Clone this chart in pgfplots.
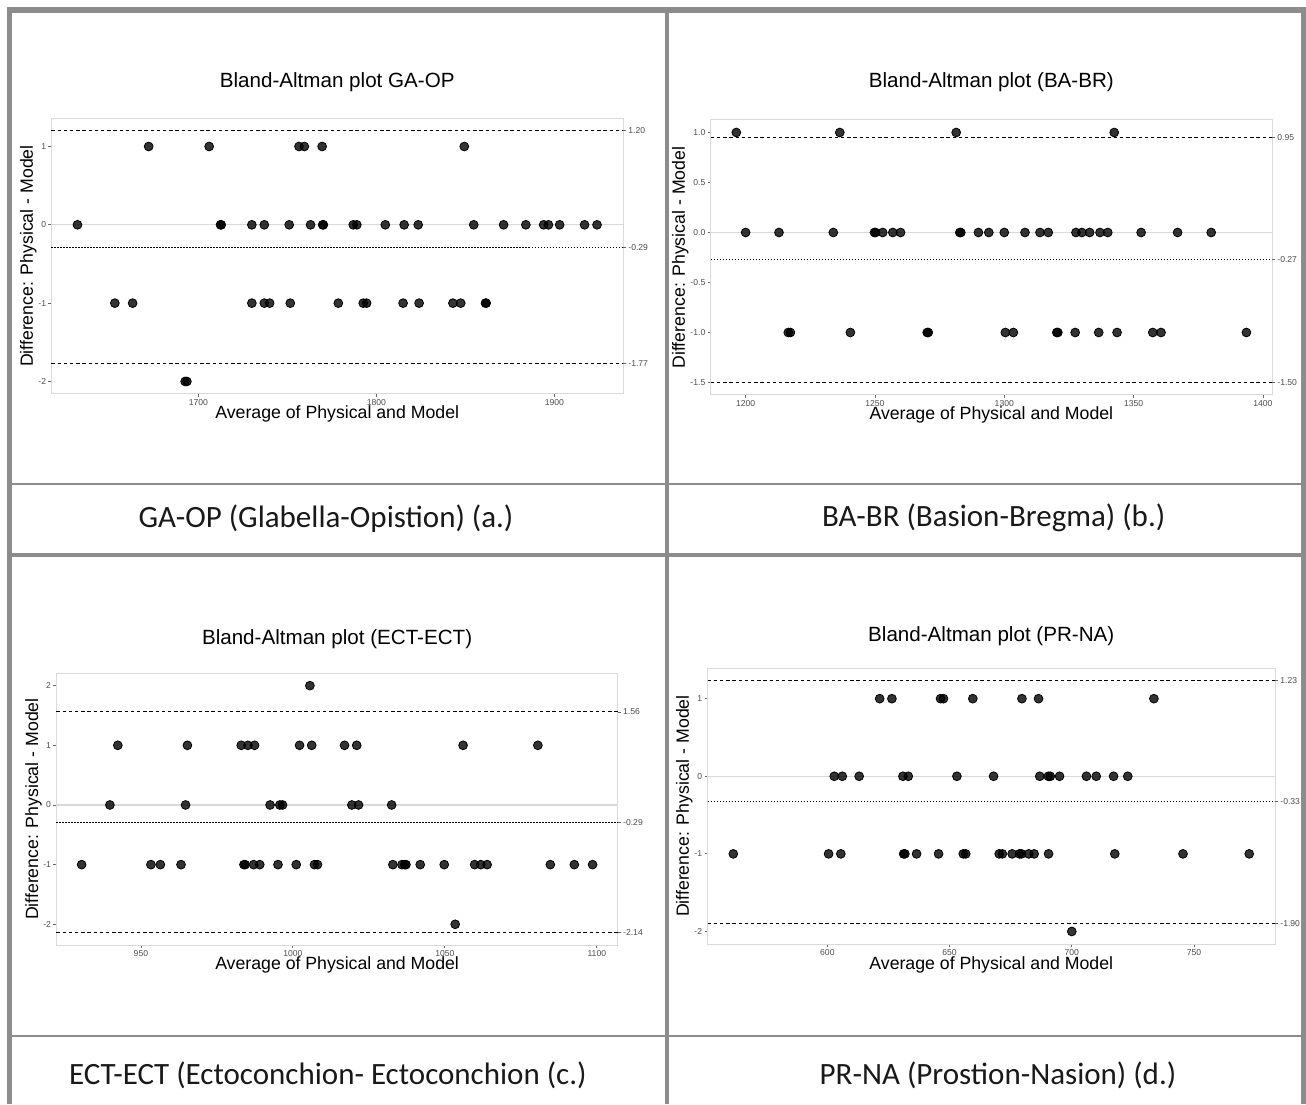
\documentclass[border=0pt]{standalone}
\usepackage{pgfplots}
\pgfplotsset{compat=1.18}
\usepackage{pgfplotstable}
\usepackage{fontspec}
\setmainfont{Liberation Sans}
\newfontfamily\capfont{Carlito}
\definecolor{bordergray}{HTML}{8C8C8C}
\definecolor{framegray}{HTML}{D9D9D9}
\definecolor{ticktext}{HTML}{4D4D4D}

\pgfplotstableread{
x y
1672 1
1706 1
1756.5 1
1759.5 1
1769.5 1
1849.4 1
1632 0
1712.4 0
1712.8 0
1730 0
1737 0
1751 0
1763 0
1769.8 0
1770.2 0
1787 0
1789 0
1805 0
1815.6 0
1823.5 0
1854.7 0
1871.5 0
1884 0
1894 0
1896.7 0
1903 0
1917 0
1924 0
1653 -1
1663 -1
1730 -1
1737 -1
1740 -1
1751.6 -1
1778.6 -1
1792.6 -1
1794.5 -1
1815 -1
1824 -1
1843 -1
1847.4 -1
1861.3 -1
1861.7 -1
1692.5 -2
1693.5 -2
}\dataA

\pgfplotstableread{
x y
1196.4 1
1236.4 1
1281.4 1
1342.5 1
1200 0
1212.9 0
1233.9 0
1249.8 0
1250.2 0
1253 0
1256.9 0
1259.9 0
1282.8 0
1283.2 0
1290 0
1294 0
1300 0
1308 0
1313.8 0
1317 0
1327.7 0
1330 0
1333 0
1337 0
1340 0
1352.9 0
1367 0
1380 0
1216.5 -1
1217.3 -1
1240.5 -1
1270.2 -1
1270.6 -1
1300.4 -1
1303.5 -1
1320.3 -1
1320.7 -1
1327.4 -1
1336.5 -1
1343.6 -1
1357.4 -1
1360.6 -1
1393.6 -1
}\dataB

\pgfplotstableread{
x y
1005.6 2
942.4 1
965.3 1
983 1
985.2 1
987.4 1
1002.2 1
1006.2 1
1017 1
1021 1
1056 1
1080.6 1
939.8 0
964.7 0
992.5 0
995.7 0
996.6 0
1019.4 0
1021.6 0
1032.5 0
930.5 -1
953.3 -1
956.4 -1
963.2 -1
983.9 -1
984.3 -1
987.1 -1
989.1 -1
995.1 -1
1001.1 -1
1007.1 -1
1008.1 -1
1032.9 -1
1035.9 -1
1036.8 -1
1037.2 -1
1041.9 -1
1049.8 -1
1059.8 -1
1061.8 -1
1063.9 -1
1084.7 -1
1092.6 -1
1098.6 -1
1053.4 -2
}\dataC

\pgfplotstableread{
x y
621.4 1
626.4 1
646.3 1
647.5 1
659.5 1
679.6 1
686.4 1
733.6 1
602.8 0
606.1 0
613 0
630.9 0
633.1 0
653 0
668 0
686.9 0
690.4 0
691.2 0
695 0
706 0
710 0
717.1 0
722.9 0
561.5 -1
600.5 -1
605.5 -1
631.2 -1
631.7 -1
636.5 -1
645.5 -1
655.6 -1
656.6 -1
670.3 -1
671.6 -1
675.6 -1
678.6 -1
679.4 -1
682.4 -1
684.6 -1
690.5 -1
717.6 -1
745.5 -1
772.6 -1
700 -2
}\dataD

\pgfplotsset{
  ba/.style={
    scale only axis, anchor=south west,
    axis line style={draw=framegray, line width=0.5pt},
    tick align=outside,
    major tick length=1.5pt,
    tick style={draw=black!60, line width=0.4pt},
    xtick pos=left, ytick pos=left,
    tick label style={font=\fontsize{4.3}{5}\selectfont, text=ticktext, inner sep=1pt},
    label style={font=\fontsize{8.85}{10}\selectfont},
    title style={font=\fontsize{10.3}{12}\selectfont, anchor=center, yshift=-7.5pt},
    xlabel style={anchor=center},
    ylabel style={anchor=center},
    clip=false,
  },
  lim/.style={no marks, black, line width=0.5pt, dash pattern=on 1.7pt off 1.4pt},
  mean/.style={no marks, black, line width=0.5pt, dash pattern=on 0.6pt off 0.9pt},
  zero/.style={no marks, framegray, line width=0.6pt},
  pts/.style={only marks, mark=*, mark size=2.2pt, mark options={draw=none, fill=black, fill opacity=0.8}},
  rlab/.style={scale only axis, anchor=south west, axis line style={draw=none},
    xtick=\empty, ytick pos=right, yticklabel pos=right,
    tick align=outside, major tick length=1.5pt,
    tick style={draw=black!60, line width=0.4pt},
    tick label style={font=\fontsize{4.3}{5}\selectfont, text=ticktext, inner sep=1pt}},
}

\begin{document}
\begin{tikzpicture}
\path[use as bounding box] (0pt,0pt) rectangle (653pt,552pt);

% ---------- panel a ----------
\begin{axis}[ba, at={(25.75pt,355pt)}, width=285.75pt, height=137.85pt,
  xmin=1617.4, xmax=1938.6, ymin=-2.16, ymax=1.36,
  xtick={1700,1800,1900}, xticklabels={1700,1800,1900},
  ytick={-2,-1,0,1}, yticklabels={-2,-1,0,1},
  title={Bland-Altman plot GA-OP},
  title style={at={(axis description cs:0.5,1.1425)}},
  xlabel={Average of Physical and Model},
  xlabel style={at={(axis description cs:0.5,-0.0725)}},
  ylabel={Difference: Physical - Model},
  ylabel style={at={(axis description cs:-0.0408,0.5)}}]
\addplot[zero] coordinates {(1617.4,0) (1938.6,0)};
\addplot[pts] table[x=x,y=y] {\dataA};
\addplot[lim] coordinates {(1617.4,1.20) (1938.6,1.20)};
\addplot[mean] coordinates {(1617.4,-0.29) (1938.6,-0.29)};
\addplot[lim] coordinates {(1617.4,-1.77) (1938.6,-1.77)};
\end{axis}
\begin{axis}[rlab, at={(25.75pt,355pt)}, width=285.75pt, height=137.85pt,
  xmin=1617.4, xmax=1938.6, ymin=-2.16, ymax=1.36,
  ytick={1.20,-0.29,-1.77}, yticklabels={1.20,-0.29,-1.77}]
\end{axis}

% ---------- panel b ----------
\begin{axis}[ba, at={(355.35pt,354.5pt)}, width=280.65pt, height=137.5pt,
  xmin=1186.5, xmax=1403.5, ymin=-1.625, ymax=1.125,
  xtick={1200,1250,1300,1350,1400}, xticklabels={1200,1250,1300,1350,1400},
  ytick={-1.5,-1,-0.5,0,0.5,1}, yticklabels={-1.5,-1.0,-0.5,0.0,0.5,1.0},
  title={Bland-Altman plot (BA-BR)},
  title style={at={(axis description cs:0.5,1.149)}},
  xlabel={Average of Physical and Model},
  xlabel style={at={(axis description cs:0.5,-0.0727)}},
  ylabel={Difference: Physical - Model},
  ylabel style={at={(axis description cs:-0.0543,0.5)}}]
\addplot[zero] coordinates {(1186.5,0) (1403.5,0)};
\addplot[pts] table[x=x,y=y] {\dataB};
\addplot[lim] coordinates {(1186.5,0.95) (1403.5,0.95)};
\addplot[mean] coordinates {(1186.5,-0.27) (1403.5,-0.27)};
\addplot[lim] coordinates {(1186.5,-1.50) (1403.5,-1.50)};
\end{axis}
\begin{axis}[rlab, at={(355.35pt,354.5pt)}, width=280.65pt, height=137.5pt,
  xmin=1186.5, xmax=1403.5, ymin=-1.625, ymax=1.125,
  ytick={0.95,-0.27,-1.50}, yticklabels={0.95,-0.27,-1.50}]
\end{axis}

% ---------- panel c ----------
\begin{axis}[ba, at={(28.2pt,79.5pt)}, width=280.7pt, height=135.85pt,
  xmin=922.2, xmax=1106.9, ymin=-2.347, ymax=2.207,
  xtick={950,1000,1050,1100}, xticklabels={950,1000,1050,1100},
  ytick={-2,-1,0,1,2}, yticklabels={-2,-1,0,1,2},
  title={Bland-Altman plot (ECT-ECT)},
  title style={at={(axis description cs:0.5,1.137)}},
  xlabel={Average of Physical and Model},
  xlabel style={at={(axis description cs:0.5,-0.0736)}},
  ylabel={Difference: Physical - Model},
  ylabel style={at={(axis description cs:-0.0406,0.5)}}]
\addplot[zero] coordinates {(922.2,0) (1106.9,0)};
\addplot[pts] table[x=x,y=y] {\dataC};
\addplot[lim] coordinates {(922.2,1.56) (1106.9,1.56)};
\addplot[mean] coordinates {(922.2,-0.29) (1106.9,-0.29)};
\addplot[lim] coordinates {(922.2,-2.14) (1106.9,-2.14)};
\end{axis}
\begin{axis}[rlab, at={(28.2pt,79.5pt)}, width=280.7pt, height=135.85pt,
  xmin=922.2, xmax=1106.9, ymin=-2.347, ymax=2.207,
  ytick={1.56,-0.29,-2.14}, yticklabels={1.56,-0.29,-2.14}]
\end{axis}

% ---------- panel d ----------
\begin{axis}[ba, at={(353.75pt,80pt)}, width=283.75pt, height=137.85pt,
  xmin=550.95, xmax=783.15, ymin=-2.1615, ymax=1.3915,
  xtick={600,650,700,750}, xticklabels={600,650,700,750},
  ytick={-2,-1,0,1}, yticklabels={-2,-1,0,1},
  title={Bland-Altman plot (PR-NA)},
  title style={at={(axis description cs:0.5,1.129)}},
  xlabel={Average of Physical and Model},
  xlabel style={at={(axis description cs:0.5,-0.076)}},
  ylabel={Difference: Physical - Model},
  ylabel style={at={(axis description cs:-0.0409,0.5)}}]
\addplot[zero] coordinates {(550.95,0) (783.15,0)};
\addplot[pts] table[x=x,y=y] {\dataD};
\addplot[lim] coordinates {(550.95,1.23) (783.15,1.23)};
\addplot[mean] coordinates {(550.95,-0.33) (783.15,-0.33)};
\addplot[lim] coordinates {(550.95,-1.90) (783.15,-1.90)};
\end{axis}
\begin{axis}[rlab, at={(353.75pt,80pt)}, width=283.75pt, height=137.85pt,
  xmin=550.95, xmax=783.15, ymin=-2.1615, ymax=1.3915,
  ytick={1.23,-0.33,-1.90}, yticklabels={1.23,-0.33,-1.90}]
\end{axis}

% ---------- table borders ----------
\draw[bordergray, line width=2.7pt] (3.5pt,547pt) -- (653pt,547pt);
\draw[bordergray, line width=2.5pt] (4.75pt,0pt) -- (4.75pt,548.3pt);
\draw[bordergray, line width=2.5pt] (651.5pt,0pt) -- (651.5pt,548.3pt);
\draw[bordergray, line width=2pt] (333.5pt,0pt) -- (333.5pt,547pt);
\draw[bordergray, line width=1.35pt] (4.75pt,310pt) -- (651.5pt,310pt);
\draw[bordergray, line width=2.3pt] (4.75pt,274.5pt) -- (651.5pt,274.5pt);
\draw[bordergray, line width=1.35pt] (4.75pt,34pt) -- (651.5pt,34pt);

% ---------- captions ----------
\node[font=\capfont\fontsize{15.5}{18}\selectfont, text=black!90] at (163pt,292.85pt) {GA-OP (Glabella-Opistion) (a.)};
\node[font=\capfont\fontsize{15.5}{18}\selectfont, text=black!90] at (496.85pt,292.85pt) {BA-BR (Basion-Bregma) (b.)};
\node[font=\capfont\fontsize{15.5}{18}\selectfont, text=black!90] at (164pt,14.5pt) {ECT-ECT (Ectoconchion- Ectoconchion (c.)};
\node[font=\capfont\fontsize{15.5}{18}\selectfont, text=black!90] at (499pt,14.5pt) {PR-NA (Prostion-Nasion) (d.)};
\end{tikzpicture}
\end{document}
